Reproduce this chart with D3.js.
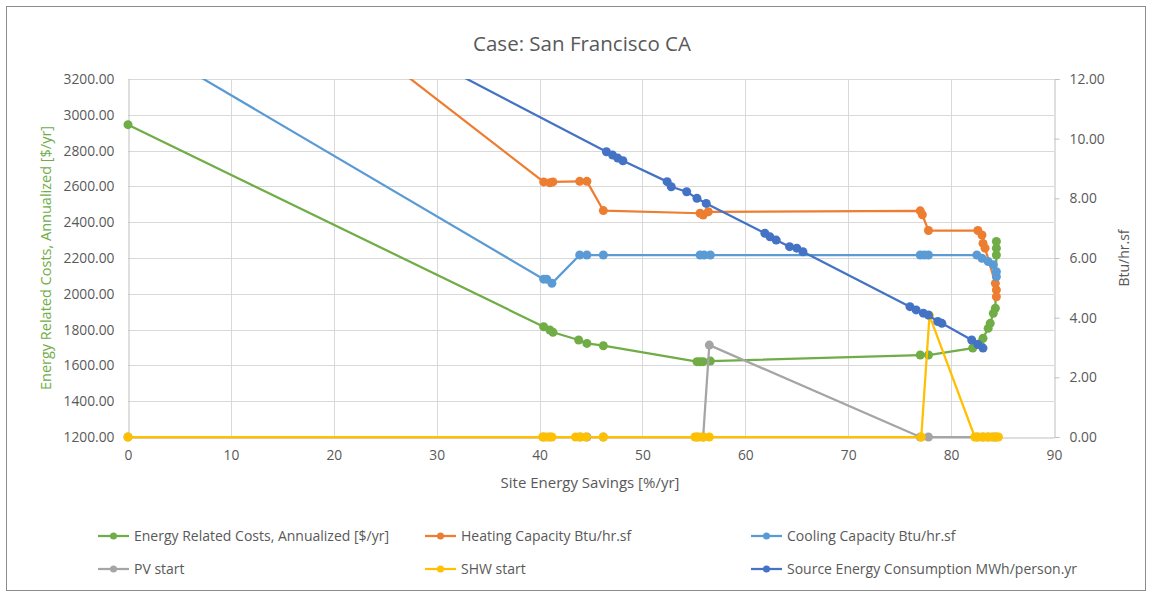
<!DOCTYPE html>
<html>
<head>
<meta charset="utf-8">
<script src="https://cdn.jsdelivr.net/npm/d3@7"></script>
<style>
    body { margin: 0; background: #fff; }
    text { font-family: 'Open Sans', sans-serif; fill: #595959; }
</style>
</head>
<body>
<svg id="chart" width="1152" height="592"></svg>
<script>
// tick labels
const xTicks = [0, 10, 20, 30, 40, 50, 60, 70, 80, 90]
const leftTicks = [1200, 1400, 1600, 1800, 2000, 2200, 2400, 2600, 2800, 3000, 3200]
const rightTicks = [0, 2, 4, 6, 8, 10, 12]

// Energy Related Costs, Annualized [$/yr] (left axis)
const costX = [0, 40.4, 41.0, 41.3, 43.8, 44.6, 46.2, 55.3, 55.6, 55.9, 56.6, 77.0, 77.8, 82.1, 82.8, 83.1, 83.6, 83.8, 84.1, 84.3, 84.4, 84.4, 84.4]
const costY = [2945, 1816, 1798, 1785, 1742, 1723, 1710, 1621, 1620, 1621, 1624, 1658, 1658, 1697, 1723, 1751, 1807, 1835, 1891, 1919, 2217, 2255, 2292]

// Heating Capacity Btu/hr.sf (right axis)
const heatX = [0, 40.4, 41.0, 41.3, 43.9, 44.6, 46.2, 55.6, 55.9, 56.4, 77.0, 77.2, 77.8, 82.6, 83.0, 83.1, 83.3, 84.3, 84.4, 84.4]
const heatY = [19.33, 8.55, 8.52, 8.55, 8.57, 8.57, 7.59, 7.50, 7.44, 7.55, 7.58, 7.45, 6.92, 6.92, 6.77, 6.49, 6.33, 5.15, 4.93, 4.70]

// Cooling Capacity Btu/hr.sf (right axis)
const coolX = [0, 40.4, 40.7, 41.2, 43.9, 44.6, 46.2, 55.6, 56.0, 56.6, 77.0, 77.4, 77.8, 82.5, 83.0, 83.6, 84.1, 84.4, 84.4]
const coolY = [13.49, 5.29, 5.29, 5.15, 6.10, 6.10, 6.10, 6.10, 6.10, 6.10, 6.10, 6.10, 6.10, 6.10, 5.99, 5.88, 5.77, 5.54, 5.37]

// PV start (right axis)
const pvX = [0, 40.4, 41.0, 43.9, 44.6, 46.2, 55.3, 55.9, 56.5, 77.0, 77.8, 82.5, 83.1, 83.6, 84.1, 84.4]
const pvY = [0, 0, 0, 0, 0, 0, 0, 0, 3.08, 0, 0, 0, 0, 0, 0, 0]

// SHW start (right axis)
const shwX = [0, 40.3, 40.7, 41.2, 43.5, 44.0, 44.5, 46.2, 55.1, 55.5, 55.9, 56.5, 77.1, 77.9, 82.3, 82.7, 83.1, 83.5, 83.9, 84.3, 84.6]
const shwY = [0, 0, 0, 0, 0, 0, 0, 0, 0, 0, 0, 0, 0, 4.07, 0, 0, 0, 0, 0, 0, 0]

// Source Energy Consumption MWh/person.yr (right axis)
const srcX = [0, 46.5, 47.1, 47.6, 48.1, 52.4, 52.8, 54.3, 55.3, 56.2, 61.9, 62.4, 63.0, 64.3, 65.0, 65.6, 76.0, 76.6, 77.3, 77.8, 78.7, 79.1, 82.0, 82.6, 83.1]
const srcY = [17.93, 9.56, 9.45, 9.35, 9.26, 8.56, 8.39, 8.22, 8.0, 7.83, 6.83, 6.71, 6.60, 6.38, 6.33, 6.21, 4.37, 4.26, 4.15, 4.09, 3.87, 3.81, 3.25, 3.10, 2.98]

const seriesNames = [
    'Energy Related Costs, Annualized [$/yr]',
    'Heating Capacity Btu/hr.sf',
    'Cooling Capacity Btu/hr.sf',
    'PV start',
    'SHW start',
    'Source Energy Consumption MWh/person.yr',
]
const seriesColors = ['#70AD47', '#ED7D31', '#5B9BD5', '#A5A5A5', '#FFC000', '#4472C4']

const zip = (xs, ys) => xs.map((x, i) => ({ x: x, y: ys[i] }))
const series = [
    { name: seriesNames[0], axis: 'left', data: zip(costX, costY) },
    { name: seriesNames[1], axis: 'right', data: zip(heatX, heatY) },
    { name: seriesNames[2], axis: 'right', data: zip(coolX, coolY) },
    { name: seriesNames[3], axis: 'right', data: zip(pvX, pvY) },
    { name: seriesNames[4], axis: 'right', data: zip(shwX, shwY) },
    { name: seriesNames[5], axis: 'right', data: zip(srcX, srcY) },
]

const plotLeft = 128
const plotRight = 1054
const plotTop = 79
const plotBottom = 437

const svg = d3.select('#chart')

// chart frame
svg.append('rect')
    .attr('x', 6.5).attr('y', 6.5)
    .attr('width', 1139).attr('height', 584)
    .attr('fill', '#fff')
    .attr('stroke', '#8c8c8c')

const xScale = d3.scaleLinear().domain([0, 90]).range([plotLeft, plotRight])
const yLeft = d3.scaleLinear().domain([1200, 3200]).range([plotBottom, plotTop])
const yRight = d3.scaleLinear().domain([0, 12]).range([plotBottom, plotTop])
const colors = d3.scaleOrdinal().domain(seriesNames).range(seriesColors)

// gridlines
const grid = svg.append('g').attr('class', 'grid')
grid.selectAll('line.h')
    .data(leftTicks.slice(1))
    .join('line')
    .attr('x1', plotLeft).attr('x2', plotRight)
    .attr('y1', d => Math.round(yLeft(d)) + 0.5)
    .attr('y2', d => Math.round(yLeft(d)) + 0.5)
    .attr('stroke', '#d9d9d9')
grid.selectAll('line.v')
    .data(xTicks.slice(1, -1))
    .join('line')
    .attr('y1', plotTop).attr('y2', plotBottom)
    .attr('x1', d => Math.round(xScale(d)) + 0.5)
    .attr('x2', d => Math.round(xScale(d)) + 0.5)
    .attr('stroke', '#d9d9d9')

// axes
const xAxis = d3.axisBottom(xScale).tickValues(xTicks).tickSize(0).tickPadding(13).tickFormat(d3.format('d'))
const leftAxis = d3.axisLeft(yLeft).tickValues(leftTicks).tickSize(0).tickPadding(14).tickFormat(d3.format('.2f'))
const rightAxis = d3.axisRight(yRight).tickValues(rightTicks).tickSize(5).tickPadding(10).tickFormat(d3.format('.2f'))

const styleAxis = g => {
    g.selectAll('.domain').attr('stroke', '#bfbfbf')
    g.selectAll('.tick line').attr('stroke', '#bfbfbf')
    g.selectAll('text').attr('fill', '#595959').style('font-size', '13.8px').style('font-family', "'Open Sans', sans-serif")
}

svg.append('g')
    .attr('transform', `translate(0, ${plotBottom + 0.5})`)
    .call(xAxis)
    .call(styleAxis)
svg.append('g')
    .attr('transform', `translate(${plotLeft + 0.5}, 0)`)
    .call(leftAxis)
    .call(styleAxis)
svg.append('g')
    .attr('transform', `translate(${plotRight + 0.5}, 0)`)
    .call(rightAxis)
    .call(styleAxis)

// titles
svg.append('text')
    .attr('x', 582).attr('y', 51)
    .attr('text-anchor', 'middle')
    .style('font-size', '20.5px')
    .text('Case: San Francisco CA')

svg.append('text')
    .attr('x', 590).attr('y', 488)
    .attr('text-anchor', 'middle')
    .style('font-size', '15px')
    .text('Site Energy Savings [%/yr]')

svg.append('text')
    .attr('transform', `translate(51, 258) rotate(-90)`)
    .attr('text-anchor', 'middle')
    .style('font-size', '14.5px')
    .style('fill', '#70AD47')
    .text('Energy Related Costs, Annualized [$/yr]')

svg.append('text')
    .attr('transform', `translate(1129, 258) rotate(-90)`)
    .attr('text-anchor', 'middle')
    .style('font-size', '14px')
    .text('Btu/hr.sf')

// data
svg.append('clipPath').attr('id', 'plot-clip')
    .append('rect')
    .attr('x', plotLeft - 6).attr('y', plotTop)
    .attr('width', plotRight - plotLeft + 12).attr('height', plotBottom - plotTop + 8)

const dataContainer = svg.append('g').attr('clip-path', 'url(#plot-clip)')

series.forEach(s => {
    const yScale = s.axis === 'left' ? yLeft : yRight
    const line = d3.line().x(d => xScale(d.x)).y(d => yScale(d.y))
    const g = dataContainer.append('g').attr('class', 'series')
    g.append('path')
        .datum(s.data)
        .attr('d', line)
        .attr('fill', 'none')
        .attr('stroke', colors(s.name))
        .attr('stroke-width', 2.25)
        .attr('stroke-linejoin', 'round')
    g.selectAll('circle')
        .data(s.data)
        .join('circle')
        .attr('cx', d => xScale(d.x))
        .attr('cy', d => yScale(d.y))
        .attr('r', 4.5)
        .attr('fill', colors(s.name))
})

// legend
const legendCols = [98, 425, 751]
const legendRows = [536, 569]
const legend = svg.append('g').attr('class', 'legend-container')
const items = legend.selectAll('g.legend-item')
    .data(seriesNames)
    .join('g')
    .attr('class', 'legend-item')
    .attr('transform', (d, i) => `translate(${legendCols[i % 3]}, ${legendRows[Math.floor(i / 3)]})`)
items.append('line')
    .attr('x1', 0).attr('x2', 31)
    .attr('stroke', d => colors(d))
    .attr('stroke-width', 2.25)
items.append('circle')
    .attr('cx', 15.5).attr('r', 3.5)
    .attr('fill', d => colors(d))
items.append('text')
    .attr('x', 36).attr('dy', '0.35em')
    .style('font-size', '14px')
    .text(d => d)
</script>
</body>
</html>
